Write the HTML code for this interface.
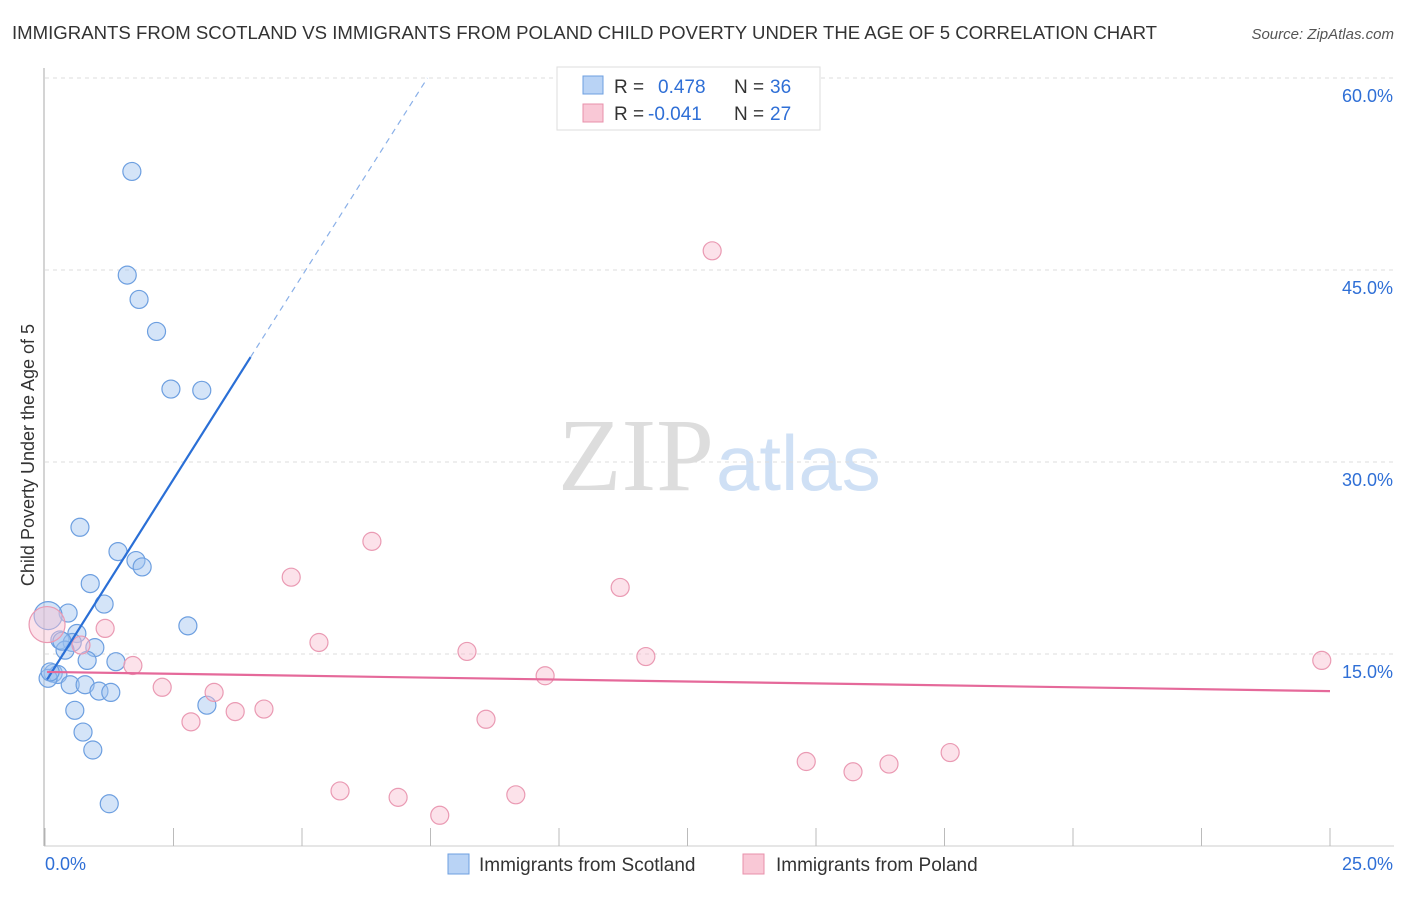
<!DOCTYPE html>
<html><head><meta charset="utf-8"><style>
body{margin:0;background:#fff;font-family:"Liberation Sans",sans-serif}
svg text{font-family:"Liberation Sans",sans-serif}
</style></head><body>
<svg id="c" width="1406" height="892">
<text x="12" y="39" font-size="18.6" fill="#333">IMMIGRANTS FROM SCOTLAND VS IMMIGRANTS FROM POLAND CHILD POVERTY UNDER THE AGE OF 5 CORRELATION CHART</text>
<text x="1394" y="39" font-size="15" fill="#555" font-style="italic" text-anchor="end">Source: ZipAtlas.com</text>
<text x="714" y="490" font-size="104" fill="#ddd" text-anchor="end" style="font-family:'Liberation Serif',serif">ZIP</text>
<text x="716" y="490" font-size="78" fill="#cfe0f5">atlas</text>
<text transform="translate(34,455) rotate(-90)" font-size="18" fill="#333" text-anchor="middle">Child Poverty Under the Age of 5</text>
<g id="grid"></g><g id="marks"></g>
<g>
<rect x="557" y="67" width="263" height="63" fill="#fff" stroke="#ddd"/>
<rect x="583" y="76" width="20" height="18" fill="#b9d3f5" stroke="#6d9fe0"/>
<rect x="583" y="104" width="20" height="18" fill="#f9c8d6" stroke="#e890ab"/>
<text x="614" y="93" font-size="19" fill="#333">R =</text><text x="658" y="93" font-size="19" fill="#2f6fd6">0.478</text>
<text x="734" y="93" font-size="19" fill="#333">N =</text><text x="770" y="93" font-size="19" fill="#2f6fd6">36</text>
<text x="614" y="120" font-size="19" fill="#333">R =</text><text x="648" y="120" font-size="19" fill="#2f6fd6">-0.041</text>
<text x="734" y="120" font-size="19" fill="#333">N =</text><text x="770" y="120" font-size="19" fill="#2f6fd6">27</text>
</g>
<g>
<rect x="448" y="854" width="21" height="20" fill="#b9d3f5" stroke="#6d9fe0"/>
<text x="479" y="871" font-size="19" fill="#333">Immigrants from Scotland</text>
<rect x="743" y="854" width="21" height="20" fill="#f9c8d6" stroke="#e890ab"/>
<text x="776" y="871" font-size="19" fill="#333">Immigrants from Poland</text>
</g>
</svg>
<script>
const yTicks=[15,30,45,60];
const xTickLabels=["0.0%","25.0%"];
const scotX=[1.69,1.60,1.83,2.17,2.45,3.05,0.68,1.42,1.77,1.89,0.88,1.15,0.45,0.06,0.62,0.29,0.53,0.97,0.39,0.82,1.38,2.78,0.16,0.25,0.06,0.49,0.78,1.05,1.28,0.58,3.15,0.74,0.93,1.25,0.33,0.10];
const scotY=[52.7,44.6,42.7,40.2,35.7,35.6,24.9,23.0,22.3,21.8,20.5,18.9,18.2,18.0,16.6,16.1,15.9,15.5,15.3,14.5,14.4,17.2,13.5,13.4,13.1,12.6,12.6,12.1,12.0,10.6,11.0,8.9,7.5,3.3,16.0,13.6];
const polX=[0.04,12.98,6.36,4.79,11.19,1.17,5.33,0.70,1.71,8.21,11.69,9.73,2.28,3.29,24.84,2.84,3.70,4.26,8.58,14.81,15.72,16.42,17.61,5.74,6.87,7.68,9.16];
const polY=[17.3,46.5,23.8,21.0,20.2,17.0,15.9,15.7,14.1,15.2,14.8,13.3,12.4,12.0,14.5,9.7,10.5,10.7,9.9,6.6,5.8,6.4,7.3,4.3,3.8,2.4,4.0];
const scotTrend=[[0.04,13.0],[4.0,38.2],[7.44,60.0]];
const polTrend=[[0.04,13.6],[25,12.1]];
const X=v=>45+v*51.4, Y=v=>846-v*12.8;
const NS="http://www.w3.org/2000/svg";
function mk(t,a,p){const e=document.createElementNS(NS,t);for(const k in a)e.setAttribute(k,a[k]);p.appendChild(e);return e;}
const g=document.getElementById('grid'),m=document.getElementById('marks');
yTicks.forEach(t=>{const l=mk('line',{x1:45,x2:1394,y1:Y(t),y2:Y(t),stroke:'#ddd','stroke-dasharray':'4 4'},g);


const tx=mk('text',{x:1393,y:Y(t)+24,'font-size':18,fill:'#2f6fd6','text-anchor':'end'},g);tx.textContent=t.toFixed(1)+'%';

});
const ax=mk('line',{x1:44,x2:44,y1:68,y2:846,stroke:'#aaa'},g);


const bx=mk('line',{x1:44,x2:1394,y1:846,y2:846,stroke:'#ccc'},g);


for(let i=0;i<=10;i++){const t=mk('line',{x1:X(i*2.5),x2:X(i*2.5),y1:828,y2:846,stroke:'#bbb'},g);

}
[[0,45,'start'],[1,1393,'end']].forEach(([i,x,a])=>{const t=mk('text',{x:x,y:870,'font-size':18,fill:'#2f6fd6','text-anchor':a},g);t.textContent=xTickLabels[i];

});
scotX.forEach((x,i)=>{const c=mk('circle',{cx:X(x),cy:Y(scotY[i]),r:(i==13?14:9),fill:'rgba(160,195,240,0.45)',stroke:'#6d9fe0','stroke-width':1.2},m);

});
polX.forEach((x,i)=>{const c=mk('circle',{cx:X(x),cy:Y(polY[i]),r:(i==0?18:9),fill:'rgba(248,190,208,0.45)',stroke:'#ea9ab3','stroke-width':1.2},m);

});
const s1=mk('line',{x1:X(scotTrend[0][0]),y1:Y(scotTrend[0][1]),x2:X(scotTrend[1][0]),y2:Y(scotTrend[1][1]),stroke:'#2a6fd6','stroke-width':2.2},m);


const s2=mk('line',{x1:X(scotTrend[1][0]),y1:Y(scotTrend[1][1]),x2:X(scotTrend[2][0]),y2:Y(scotTrend[2][1]),stroke:'#8ab0e8','stroke-width':1.2,'stroke-dasharray':'6 5'},m);


const p1=mk('line',{x1:X(polTrend[0][0]),y1:Y(polTrend[0][1]),x2:X(polTrend[1][0]),y2:Y(polTrend[1][1]),stroke:'#e5699a','stroke-width':2.2},m);


</script>
</body></html>
